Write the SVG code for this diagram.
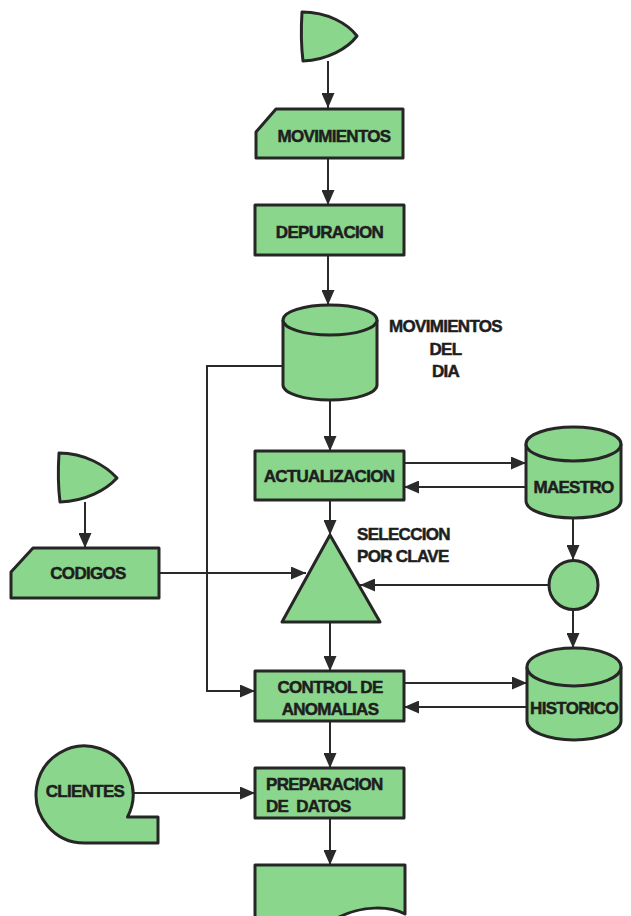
<svg xmlns="http://www.w3.org/2000/svg" width="631" height="916" viewBox="0 0 631 916">
<style>
.n{fill:#8bd68d;stroke:#262626;stroke-width:3;stroke-linejoin:round}
.t{font-family:"Liberation Sans",Arial,sans-serif;font-weight:bold;font-size:17px;letter-spacing:-0.7px;fill:#1e1e1e;stroke:#1e1e1e;stroke-width:0.5;text-anchor:middle}
.l{text-anchor:start}
.c{fill:none;stroke:#2a2a2a;stroke-width:2}
</style>
<defs>
<marker id="ah" markerUnits="userSpaceOnUse" markerWidth="15" markerHeight="13" refX="15" refY="6.5" orient="auto">
<path d="M0,0 L15,6.5 L0,13 Z" fill="#2a2a2a"/>
</marker>
</defs>
<rect width="631" height="916" fill="#fff"/>
<g id="connectors">
<line class="c" x1="328" y1="61" x2="328" y2="108" marker-end="url(#ah)"/>
<line class="c" x1="328" y1="158" x2="328" y2="205" marker-end="url(#ah)"/>
<line class="c" x1="328" y1="255" x2="328" y2="305" marker-end="url(#ah)"/>
<line class="c" x1="330" y1="400" x2="330" y2="451" marker-end="url(#ah)"/>
<line class="c" x1="404" y1="463" x2="526" y2="463" marker-end="url(#ah)"/>
<line class="c" x1="526" y1="487" x2="404" y2="487" marker-end="url(#ah)"/>
<line class="c" x1="330" y1="500" x2="330" y2="535" marker-end="url(#ah)"/>
<line class="c" x1="573" y1="518" x2="573" y2="560" marker-end="url(#ah)"/>
<line class="c" x1="549" y1="585" x2="360" y2="585" marker-end="url(#ah)"/>
<line class="c" x1="159" y1="573" x2="306" y2="573" marker-end="url(#ah)"/>
<line class="c" x1="330" y1="622" x2="330" y2="671" marker-end="url(#ah)"/>
<line class="c" x1="573" y1="610" x2="573" y2="648" marker-end="url(#ah)"/>
<polyline class="c" points="283,366 207,366 207,691 255,691" marker-end="url(#ah)"/>
<line class="c" x1="404" y1="683" x2="527" y2="683" marker-end="url(#ah)"/>
<line class="c" x1="527" y1="707" x2="404" y2="707" marker-end="url(#ah)"/>
<line class="c" x1="330" y1="721" x2="330" y2="768" marker-end="url(#ah)"/>
<line class="c" x1="133" y1="793" x2="255" y2="793" marker-end="url(#ah)"/>
<line class="c" x1="330" y1="818" x2="330" y2="865" marker-end="url(#ah)"/>
<line class="c" x1="85" y1="502" x2="85" y2="548" marker-end="url(#ah)"/>
</g>
<g id="start1">
<path class="n" d="M302,12 C328,12 348,24 357,36 C348,48 328,60 303,61 C301,45 301,28 302,12 Z"/>
</g>
<g id="movimientos">
<path class="n" d="M276,109 H403 V158 H256 V132 Z"/>
<text class="t" x="334" y="142">MOVIMIENTOS</text>
</g>
<g id="depuracion">
<rect class="n" x="255" y="205" width="149" height="50"/>
<text class="t" x="329.5" y="238">DEPURACION</text>
</g>
<g id="movdia">
<path class="n" d="M283,320 A47,15 0 0 1 377,320 V385 A47,15 0 0 1 283,385 Z"/>
<path class="n" d="M283,320 A47,15 0 0 0 377,320" fill="none"/>
<text class="t" x="445.5" y="332">MOVIMIENTOS</text>
<text class="t" x="445.5" y="355">DEL</text>
<text class="t" x="445.5" y="377">DIA</text>
</g>
<g id="actualizacion">
<rect class="n" x="255" y="451" width="149" height="49"/>
<text class="t" x="329" y="482">ACTUALIZACION</text>
</g>
<g id="maestro">
<path class="n" d="M526,444 A47.5,17 0 0 1 621,444 V501 A47.5,17 0 0 1 526,501 Z"/>
<path class="n" d="M526,444 A47.5,17 0 0 0 621,444" fill="none"/>
<text class="t" x="573.5" y="493">MAESTRO</text>
</g>
<g id="seleccion">
<path class="n" d="M330,535 L380,622 L282,622 Z"/>
<text class="t l" x="357" y="540">SELECCION</text>
<text class="t l" x="357" y="562">POR CLAVE</text>
</g>
<g id="conector">
<circle class="n" cx="573.5" cy="585" r="24.5"/>
</g>
<g id="start2">
<path class="n" d="M59,453 C85,453 106,466 117,478 C106,490 86,501 60,502 C58,486 58,469 59,453 Z"/>
</g>
<g id="codigos">
<path class="n" d="M33,548 H159 V598 H11 V572 Z"/>
<text class="t" x="88" y="579">CODIGOS</text>
</g>
<g id="control">
<rect class="n" x="255" y="671" width="149" height="50"/>
<text class="t" x="330" y="693">CONTROL DE</text>
<text class="t" x="330" y="715">ANOMALIAS</text>
</g>
<g id="historico">
<path class="n" d="M527,667 A47,19 0 0 1 621,667 V721 A47,19 0 0 1 527,721 Z"/>
<path class="n" d="M527,667 A47,19 0 0 0 621,667" fill="none"/>
<text class="t" x="574" y="714">HISTORICO</text>
</g>
<g id="preparacion">
<rect class="n" x="255" y="768" width="149" height="50"/>
<text class="t l" x="266" y="790">PREPARACION</text>
<text class="t l" x="266" y="812" xml:space="preserve">DE  DATOS</text>
</g>
<g id="clientes">
<path class="n" d="M127.5,817 A48.5,48.5 0 1 0 84.5,843 H158 V817 Z"/>
<text class="t" x="85" y="797">CLIENTES</text>
</g>
<g id="documento">
<path class="n" d="M255,865 H405 V914 C390,906 362,905 337,918 L255,930 Z"/>
</g>
</svg>
